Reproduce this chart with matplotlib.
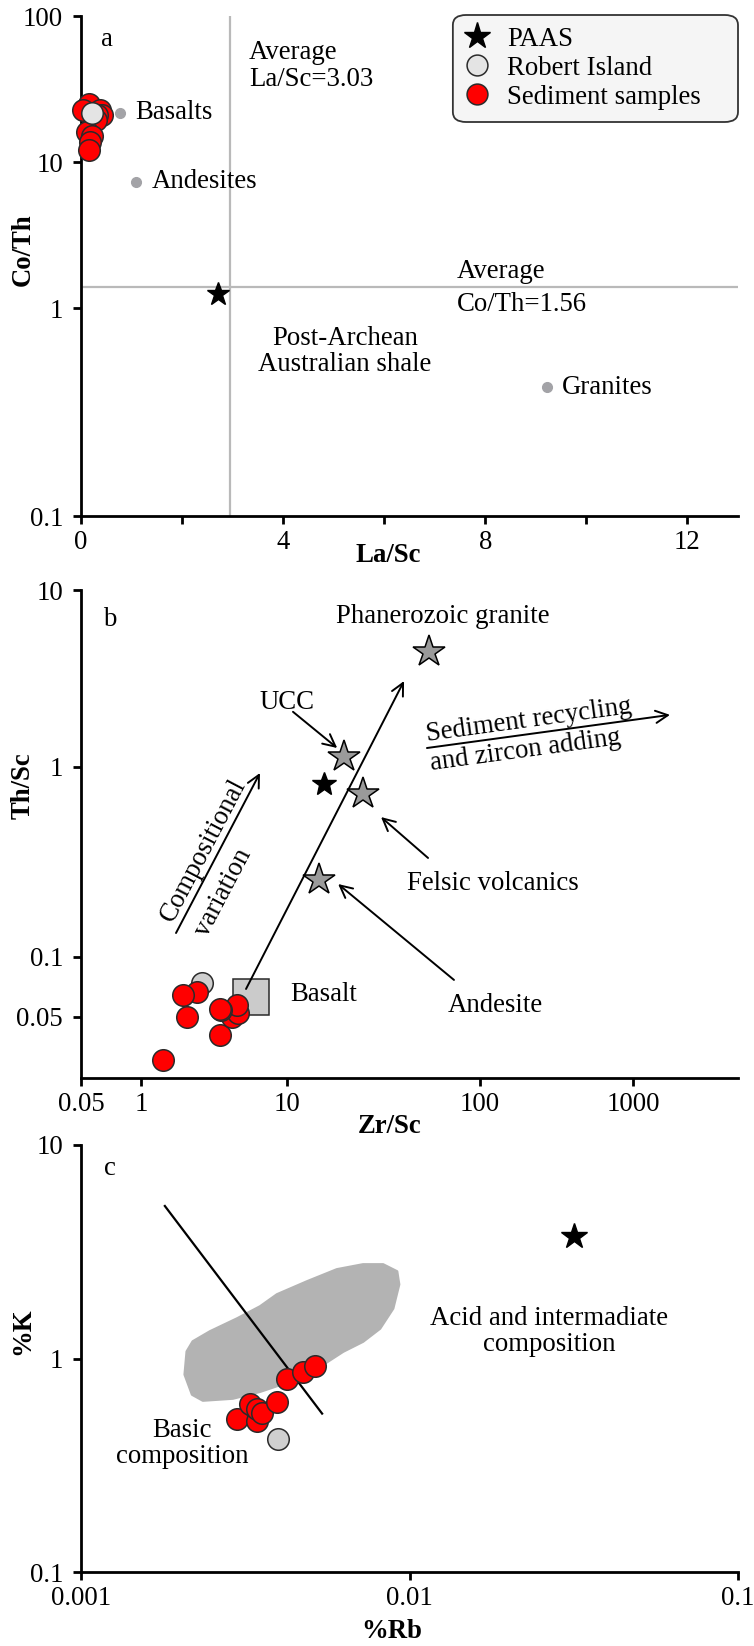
import numpy as np
import matplotlib.pyplot as plt
from matplotlib.lines import Line2D
from matplotlib.patches import Polygon, FancyBboxPatch
from matplotlib.ticker import NullLocator

plt.rcParams['font.family'] = ['Liberation Serif', 'DejaVu Serif']
FS = 19.3
plt.rcParams['font.size'] = FS

# ---------------- data ----------------
# (a) La/Sc vs Co/Th
a_sed_lasc = [0.16, 0.04, 0.38, 0.42, 0.32, 0.30, 0.12, 0.22, 0.18, 0.16]
a_sed_coth = [24.9, 22.7, 22.7, 21.0, 21.0, 19.5, 16.0, 15.0, 13.7, 12.1]
a_ri_lasc = [0.22]
a_ri_coth = [21.7]
a_paas = (2.71, 1.25)
a_rock_names = ['Basalts', 'Andesites', 'Granites']
a_rock_lasc = [0.77, 1.09, 9.22]
a_rock_coth = [21.7, 7.3, 0.417]
a_avg_lasc = 2.95
a_avg_coth = 1.39

# (b) Zr/Sc vs Th/Sc
b_sed_zrsc = [2.42, 1.41, 1.94, 2.07, 3.48, 4.20, 4.62, 4.54, 3.53, 3.47]
b_sed_thsc = [0.0668, 0.0304, 0.0645, 0.0500, 0.0406, 0.0500, 0.0524, 0.0574, 0.0542, 0.0550]
b_ri_zrsc = [2.62]
b_ri_thsc = [0.0741]
b_basalt = (5.71, 0.0627)
b_star_names = ['UCC', 'Felsic volcanics', 'Andesite', 'Phanerozoic granite']
b_star_zrsc = [19.7, 24.8, 14.65, 54.4]
b_star_thsc = [1.139, 0.721, 0.254, 4.46]
b_paas = (15.5, 0.814)

# (c) %Rb vs %K
c_sed_rb = [0.00298, 0.00327, 0.00343, 0.00343, 0.00356, 0.00395, 0.00424, 0.00474, 0.00515]
c_sed_k = [0.519, 0.610, 0.508, 0.578, 0.553, 0.623, 0.798, 0.869, 0.918]
c_ri_rb = [0.00398]
c_ri_k = [0.418]
c_paas = (0.0317, 3.75)
c_line_rb = [0.0018, 0.00542]
c_line_k = [5.18, 0.552]
c_field_rb = [0.00210, 0.00207, 0.00218, 0.00235, 0.00290, 0.00351, 0.00433, 0.00523,
              0.00628, 0.00722, 0.00813, 0.00891, 0.00929, 0.00916, 0.00831, 0.00722,
              0.00601, 0.00488, 0.00395, 0.00351, 0.00299, 0.00247, 0.00219]
c_field_k = [1.078, 0.841, 0.678, 0.636, 0.650, 0.700, 0.780, 0.898,
             1.078, 1.201, 1.382, 1.715, 2.222, 2.556, 2.756, 2.756,
             2.612, 2.295, 1.994, 1.752, 1.539, 1.338, 1.201]

# tick positions of the original (uneven) log axes, in pixels
a_y_ticks = [0.1, 1, 10, 100]
a_y_pos = [-516, -308, -162, -16]
b_x_ticks = [0.05, 1, 10, 100, 1000]
b_x_pos = [81, 141, 287, 480, 633]
b_y_ticks = [0.05, 0.1, 1, 10]
b_y_pos = [-1017, -957, -767, -590]

RED = '#ff0000'
EDGE = '#2a2a2a'


def _lin(v, xp, fp):
    out = np.interp(v, xp, fp)
    s0 = (fp[1] - fp[0]) / (xp[1] - xp[0])
    s1 = (fp[-1] - fp[-2]) / (xp[-1] - xp[-2])
    out = np.where(v < xp[0], fp[0] + (v - xp[0]) * s0, out)
    out = np.where(v > xp[-1], fp[-1] + (v - xp[-1]) * s1, out)
    return out


def knot_scale(vals, pos):
    lv = np.log10(vals)
    p = np.asarray(pos, float)

    def fwd(v):
        v = np.log10(np.clip(np.asarray(v, float), 1e-12, None))
        return _lin(v, lv, p)

    def inv(q):
        return 10 ** _lin(np.asarray(q, float), p, lv)
    return fwd, inv


def style(ax):
    for s in ['top', 'right']:
        ax.spines[s].set_visible(False)
    for s in ['left', 'bottom']:
        ax.spines[s].set_linewidth(2)
    ax.tick_params(which='both', direction='out', length=6, width=2, labelsize=FS)
    ax.tick_params(axis='y', pad=7)
    ax.tick_params(axis='x', pad=4)


def labels(ax, xl, yl, xpos, ypos):
    ax.set_xlabel(xl, fontweight='bold', va='center')
    ax.set_ylabel(yl, fontweight='bold', va='center')
    ax.xaxis.set_label_coords(*xpos)
    ax.yaxis.set_label_coords(*ypos)


def circles(ax, x, y, fc, ms=15.5, z=4):
    ax.plot(x, y, 'o', ms=ms, mfc=fc, mec=EDGE, mew=1.1, ls='none',
            zorder=z, clip_on=False)


fig = plt.figure(figsize=(7.54, 16.46), dpi=100)
W, H = 754, 1646
axa = fig.add_axes([81 / W, 1 - 516 / H, 657 / W, 500 / H])
axb = fig.add_axes([81 / W, 1 - 1078 / H, 657 / W, 488 / H])
axc = fig.add_axes([81 / W, 1 - 1572 / H, 657 / W, 427 / H])

# ---------------- panel a ----------------
axa.set_yscale('function', functions=knot_scale(a_y_ticks, a_y_pos))
axa.set_xlim(0, 13)
axa.set_ylim(0.1, 100)
axa.set_xticks([0, 4, 8, 12])
axa.set_xticks([2, 6, 10], minor=True)
axa.set_yticks(a_y_ticks)
axa.set_yticklabels(['0.1', '1', '10', '100'])
axa.yaxis.set_minor_locator(NullLocator())
style(axa)

axa.axvline(a_avg_lasc, color='#b9b9b9', lw=1.6, zorder=1)
axa.axhline(a_avg_coth, color='#b9b9b9', lw=1.6, zorder=1)
axa.plot(a_rock_lasc, a_rock_coth, 'o', ms=7, color='#a3a3a7', ls='none', zorder=3)
for name, x, y in zip(a_rock_names, a_rock_lasc, a_rock_coth):
    axa.text(x + 0.3, y, name, ha='left', va='center')
circles(axa, a_sed_lasc, a_sed_coth, RED)
circles(axa, a_ri_lasc, a_ri_coth, '#e4e4e4', z=5)
axa.plot(*a_paas, '*', ms=17, color='k', zorder=5)

axa.text(3.32, 45.5, 'Average\nLa/Sc=3.03', ha='left', va='center', linespacing=1.1)
axa.text(7.44, 1.79, 'Average', ha='left', va='center')
axa.text(7.44, 1.065, 'Co/Th=1.56', ha='left', va='center')
axa.text(5.22, 0.621, 'Post-Archean\nAustralian shale', ha='center', va='center',
         linespacing=1.05)
axa.text(0.04, 0.952, 'a', transform=axa.transAxes, ha='center', va='center')
labels(axa, 'La/Sc', 'Co/Th', (0.467, -0.08), (-0.088, 0.532))

# legend: frame drawn as its own rounded box, entries placed inside it
axa.add_patch(FancyBboxPatch((0.566, 0.788), 0.434, 0.214,
                             boxstyle='round,pad=0,rounding_size=0.02',
                             transform=axa.transAxes, fc='#f5f5f5', ec='#333333',
                             lw=1.3, zorder=6, clip_on=False))
handles = [
    Line2D([], [], ls='none', marker='*', ms=20, mfc='k', mec='k'),
    Line2D([], [], ls='none', marker='o', ms=15, mfc='#e4e4e4', mec=EDGE, mew=1.1),
    Line2D([], [], ls='none', marker='o', ms=15, mfc=RED, mec=EDGE, mew=1.1),
]
leg = axa.legend(handles, ['PAAS', 'Robert Island', 'Sediment samples'],
                 loc='upper left', bbox_to_anchor=(0.583, 0.979), borderaxespad=0,
                 frameon=False, handlelength=1.0, handletextpad=0.6,
                 labelspacing=0.15, borderpad=0, fontsize=FS)
leg.set_zorder(7)

# ---------------- panel b ----------------
axb.set_xscale('function', functions=knot_scale(b_x_ticks, b_x_pos))
axb.set_yscale('function', functions=knot_scale(b_y_ticks, b_y_pos))
axb.set_xlim(0.05, 4855)
axb.set_ylim(0.0247, 10)
axb.set_xticks(b_x_ticks)
axb.set_xticklabels(['0.05', '1', '10', '100', '1000'])
axb.set_yticks(b_y_ticks)
axb.set_yticklabels(['0.05', '0.1', '1', '10'])
axb.xaxis.set_minor_locator(NullLocator())
axb.yaxis.set_minor_locator(NullLocator())
style(axb)

axb.plot(*b_basalt, 's', ms=26, mfc='#cbcbcb', mec=EDGE, mew=1.1, zorder=2)
arrow = dict(arrowstyle='->', lw=1.4, color='k', mutation_scale=22, shrinkA=0, shrinkB=0)
axb.annotate('', xy=(40.4, 3.06), xytext=(5.24, 0.0691), arrowprops=arrow, zorder=3)
axb.annotate('', xy=(6.53, 0.930), xytext=(1.737, 0.1337), arrowprops=arrow)
axb.annotate('', xy=(18.2, 1.28), xytext=(10.74, 2.05), arrowprops=arrow)
axb.annotate('', xy=(30.7, 0.545), xytext=(53.8, 0.332), arrowprops=arrow)
axb.annotate('', xy=(18.4, 0.242), xytext=(73.3, 0.0767), arrowprops=arrow)
axb.annotate('', xy=(1745, 1.97), xytext=(53.1, 1.28), arrowprops=arrow)

circles(axb, b_sed_zrsc, b_sed_thsc, RED)
circles(axb, b_ri_zrsc, b_ri_thsc, '#cfcfcf', z=3)
axb.plot(b_star_zrsc, b_star_thsc, '*', ms=24, mfc='#9a9a9a', mec='k', mew=1.1,
         ls='none', zorder=5)
axb.plot(*b_paas, '*', ms=18, color='k', zorder=5)

axb.text(10.0, 2.30, 'UCC', ha='center', va='center')
axb.text(64.3, 7.04, 'Phanerozoic granite', ha='center', va='center')
axb.text(121.6, 0.245, 'Felsic volcanics', ha='center', va='center')
axb.text(125.4, 0.0568, 'Andesite', ha='center', va='center')
axb.text(10.36, 0.0645, 'Basalt', ha='left', va='center')
axb.text(2.66, 0.366, 'Compositional', ha='center', va='center', rotation=62.3,
         rotation_mode='anchor')
axb.text(3.64, 0.217, 'variation', ha='center', va='center', rotation=62.3,
         rotation_mode='anchor')
axb.text(209, 1.82, 'Sediment recycling', ha='center', va='center', rotation=7.8,
         rotation_mode='anchor')
axb.text(197, 1.231, 'and zircon adding', ha='center', va='center', rotation=7.8,
         rotation_mode='anchor')
axb.text(0.044, 0.939, 'b', transform=axb.transAxes, ha='center', va='center')
labels(axb, 'Zr/Sc', 'Th/Sc', (0.47, -0.10), (-0.088, 0.60))

# ---------------- panel c ----------------
axc.set_xscale('log')
axc.set_yscale('log')
axc.set_xlim(0.001, 0.1)
axc.set_ylim(0.1, 10)
axc.set_xticks([0.001, 0.01, 0.1])
axc.set_xticklabels(['0.001', '0.01', '0.1'])
axc.set_yticks([0.1, 1, 10])
axc.set_yticklabels(['0.1', '1', '10'])
axc.xaxis.set_minor_locator(NullLocator())
axc.yaxis.set_minor_locator(NullLocator())
style(axc)

axc.add_patch(Polygon(np.column_stack([c_field_rb, c_field_k]), closed=True,
                      fc='#b3b3b3', ec='#b3b3b3', lw=2, joinstyle='round', zorder=1))
axc.plot(c_line_rb, c_line_k, color='k', lw=1.6, zorder=2)
circles(axc, c_sed_rb, c_sed_k, RED)
circles(axc, c_ri_rb, c_ri_k, '#cfcfcf')
axc.plot(*c_paas, '*', ms=19, color='k', zorder=5)

axc.text(0.0266, 1.338, 'Acid and intermadiate\ncomposition', ha='center',
         va='center', linespacing=1.05)
axc.text(0.00203, 0.400, 'Basic\ncomposition', ha='center', va='center',
         linespacing=1.05)
axc.text(0.044, 0.946, 'c', transform=axc.transAxes, ha='center', va='center')
labels(axc, '%Rb', '%K', (0.473, -0.14), (-0.088, 0.564))

fig.savefig('out.png', dpi=100)
